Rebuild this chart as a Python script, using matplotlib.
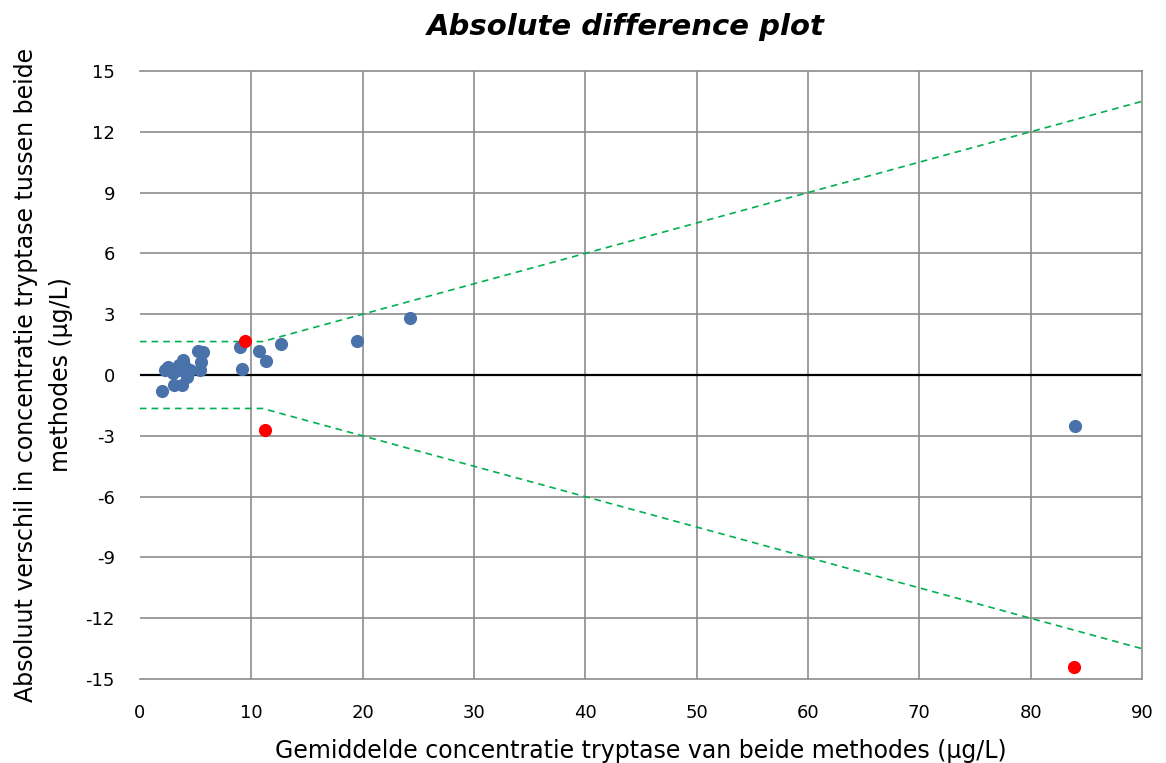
import numpy as np
import matplotlib.pyplot as plt

plt.rcParams['axes.unicode_minus'] = False

# Data
x_blue = [2.0, 2.25, 2.55, 3.0, 3.1, 3.4, 3.5, 3.75, 3.9, 4.0, 4.2, 4.5, 4.3,
          5.2, 5.4, 5.5, 5.7, 9.0, 9.2, 10.7, 11.3, 12.7, 19.5, 24.3, 84.0]
y_blue = [-0.8, 0.25, 0.4, 0.1, -0.5, 0.25, 0.5, -0.5, 0.75, 0.5, -0.1, 0.25, 0.1,
          1.2, 0.25, 0.65, 1.15, 1.4, 0.3, 1.2, 0.7, 1.55, 1.7, 2.8, -2.5]
x_red = [9.4, 11.25, 83.9]
y_red = [1.7, -2.7, -14.4]

# limit lines: flat up to x=11, then proportional
lim_x = [0, 11, 90]
lim_upper = [1.65, 1.65, 13.5]
lim_lower = [-1.65, -1.65, -13.5]

fig = plt.figure(figsize=(11.66, 7.63), dpi=100)
ax = fig.add_axes([0.12, 0.11, 0.8594, 0.797])

grid_c = '#8c8c8c'
for v in range(10, 90, 10):
    ax.axvline(v, color=grid_c, lw=1.2, zorder=1)
for v in range(-12, 15, 3):
    ax.axhline(v, color=grid_c, lw=1.2, zorder=1)
ax.axhline(0, color='black', lw=1.6, zorder=2)

ax.plot(lim_x, lim_upper, color='#00b050', ls=(0, (4, 3)), lw=1.2, zorder=3)
ax.plot(lim_x, lim_lower, color='#00b050', ls=(0, (4, 3)), lw=1.2, zorder=3)

ax.scatter(x_blue, y_blue, s=90, color='#4a72aa', zorder=4, linewidths=0)
ax.scatter(x_red, y_red, s=90, color='#ff0000', zorder=5, linewidths=0)

ax.set_xlim(0, 90)
ax.set_ylim(-15, 15)
ax.set_xticks(range(0, 91, 10))
ax.set_yticks(range(-15, 16, 3))
for s in ax.spines.values():
    s.set_color(grid_c)
    s.set_linewidth(1.2)
ax.spines['left'].set_visible(False)
ax.tick_params(axis='both', labelsize=13, length=0)
ax.tick_params(axis='x', pad=18)
ax.tick_params(axis='y', pad=18)

ax.set_title('Absolute difference plot', fontsize=21, fontweight='bold',
             fontstyle='italic', pad=26, x=0.485)
ax.set_xlabel('Gemiddelde concentratie tryptase van beide methodes (µg/L)',
              fontsize=17, labelpad=12)
ax.set_ylabel('Absoluut verschil in concentratie tryptase tussen beide\nmethodes (µg/L)',
              fontsize=17, labelpad=9, linespacing=1.6)

fig.savefig('out.png', dpi=100)
